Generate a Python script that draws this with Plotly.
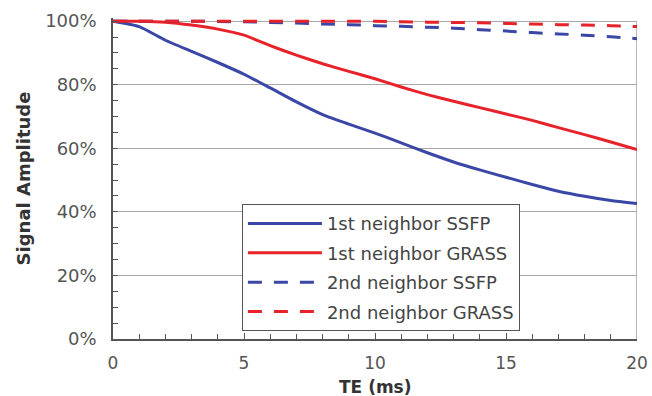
import plotly.graph_objects as go

te = list(range(0, 21))
ssfp_1st = [100, 98.3, 94, 90.5, 87, 83.3, 79, 74.6, 70.6, 67.6, 64.8, 61.7, 58.6, 55.7, 53.2, 50.9, 48.6, 46.5, 44.9, 43.6, 42.6]
grass_1st = [100, 100, 99.7, 98.8, 97.5, 95.6, 92.3, 89.3, 86.6, 84.2, 81.9, 79.3, 76.9, 74.8, 72.8, 70.8, 68.8, 66.5, 64.3, 62, 59.6]
ssfp_2nd = [100, 100, 100, 100, 99.9, 99.8, 99.6, 99.4, 99.1, 98.9, 98.6, 98.4, 98.1, 97.8, 97.3, 96.9, 96.4, 96, 95.6, 95.1, 94.5]
grass_2nd = [100, 100, 100, 100, 100, 100, 100, 100, 100, 100, 100, 99.8, 99.7, 99.6, 99.5, 99.3, 99.1, 98.9, 98.8, 98.6, 98.3]

names = ["1st neighbor SSFP", "1st neighbor GRASS", "2nd neighbor SSFP", "2nd neighbor GRASS"]
y_ticks = [0, 20, 40, 60, 80, 100]
y_tick_text = ["0%", "20%", "40%", "60%", "80%", "100%"]
x_ticks = [0, 5, 10, 15, 20]

BLUE = "#3a47a6"
RED = "#e8222a"
FONT = "DejaVu Sans"

fig = go.Figure()
series = [(ssfp_1st, BLUE, "solid"), (grass_1st, RED, "solid"),
          (ssfp_2nd, BLUE, "14px,12px"), (grass_2nd, RED, "14px,12px")]
for i, (vals, col, dash) in enumerate(series):
    fig.add_trace(go.Scatter(x=te, y=vals, mode="lines", name=names[i],
                             legendgroup=str(i),
                             line=dict(color=col, width=3, dash=dash, shape="spline", smoothing=0.5)))

fig.add_shape(type="line", xref="x", yref="y", x0=20, x1=20, y0=0, y1=100,
              line=dict(color="#a0a0a0", width=1.5), layer="below")

fig.add_annotation(text="<b>TE (ms)</b>", xref="paper", yref="paper", x=0.5, y=-0.148,
                   xanchor="center", yanchor="middle", showarrow=False,
                   font=dict(family=FONT, size=17, color="#333333"))

fig.update_layout(
    width=652, height=396,
    margin=dict(l=113, r=15, t=18, b=57),
    paper_bgcolor="white", plot_bgcolor="white",
    font=dict(family=FONT, color="#555555", size=17),
    showlegend=True,
    legend=dict(x=0.246, y=0.42, xanchor="left", yanchor="top",
                bgcolor="white", bordercolor="#555555", borderwidth=1,
                font=dict(family=FONT, size=18, color="#444444"),
                traceorder="grouped", tracegroupgap=3, itemwidth=74),
    xaxis=dict(range=[0, 20], tickvals=x_ticks, ticks="inside", ticklen=6,
               tickcolor="#555555", showgrid=False, zeroline=False, automargin=False,
               showline=True, linecolor="#555555", linewidth=1.5,
               minor=dict(dtick=1, ticks="inside", ticklen=5, tickcolor="#555555", showgrid=False),
               tickfont=dict(size=17, color="#555555"), ticklabelstandoff=8),
    yaxis=dict(range=[0, 101], tickvals=y_ticks, ticktext=y_tick_text,
               ticks="inside", ticklen=5, tickcolor="#555555", automargin=False,
               showgrid=True, gridcolor="#a8a8a8", gridwidth=1.2, zeroline=False,
               showline=True, linecolor="#555555", linewidth=1.5,
               minor=dict(dtick=5, ticks="inside", ticklen=5, tickcolor="#555555", showgrid=False),
               tickfont=dict(size=18, color="#555555"), ticklabelstandoff=11,
               title=dict(text="<b>Signal Amplitude</b>", font=dict(size=18, color="#333333"), standoff=10)),
)

fig.write_html("out.html", config={"displayModeBar": False},
               post_script="document.body.style.margin='0px';")
